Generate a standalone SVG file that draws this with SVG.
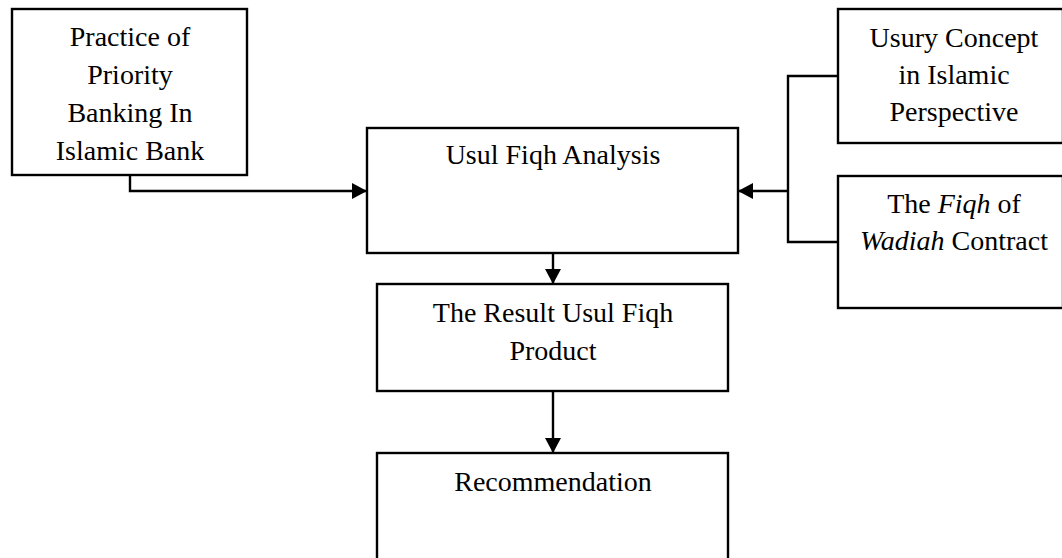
<svg xmlns="http://www.w3.org/2000/svg" width="1062" height="558" viewBox="0 0 1062 558">
<style>
.box{fill:#fff;stroke:#000;stroke-width:2.4}
.t{font-family:"Liberation Serif","Times New Roman",serif;font-size:28px;fill:#000;text-anchor:middle}
.i{font-style:italic}
.c{fill:none;stroke:#000;stroke-width:2.4}
</style>
<defs>
<marker id="ah" markerUnits="userSpaceOnUse" markerWidth="16" markerHeight="16" refX="15" refY="8" orient="auto">
<path d="M0,0 L15,8 L0,16 Z" fill="#000"/>
</marker>
</defs>
<rect width="1062" height="558" fill="#fff"/>
<g id="n1">
<rect class="box" x="12" y="9" width="235" height="166"/>
<text class="t" x="130" y="46">Practice of</text>
<text class="t" x="130" y="84">Priority</text>
<text class="t" x="130" y="122">Banking In</text>
<text class="t" x="130" y="160">Islamic Bank</text>
</g>
<g id="n2">
<rect class="box" x="367" y="128" width="371" height="125"/>
<text class="t" x="553" y="164">Usul Fiqh Analysis</text>
</g>
<g id="n3">
<rect class="box" x="838" y="9" width="225" height="134"/>
<text class="t" x="954" y="47">Usury Concept</text>
<text class="t" x="954" y="84">in Islamic</text>
<text class="t" x="954" y="121">Perspective</text>
</g>
<g id="n4">
<rect class="box" x="838" y="176" width="225" height="132"/>
<text class="t" x="954" y="213">The <tspan class="i">Fiqh</tspan> of</text>
<text class="t" x="954" y="250"><tspan class="i">Wadiah</tspan> Contract</text>
</g>
<g id="n5">
<rect class="box" x="377" y="284" width="351" height="107"/>
<text class="t" x="553" y="322">The Result Usul Fiqh</text>
<text class="t" x="553" y="360">Product</text>
</g>
<g id="n6">
<rect class="box" x="377" y="453" width="351" height="120"/>
<text class="t" x="553" y="491">Recommendation</text>
</g>
<g id="connectors">
<path class="c" d="M130,175 V191 H367" marker-end="url(#ah)"/>
<path class="c" d="M838,76 H788 V242 H838"/>
<path class="c" d="M788,191 H738" marker-end="url(#ah)"/>
<path class="c" d="M553,253 V284" marker-end="url(#ah)"/>
<path class="c" d="M553,391 V453" marker-end="url(#ah)"/>
</g>
</svg>
